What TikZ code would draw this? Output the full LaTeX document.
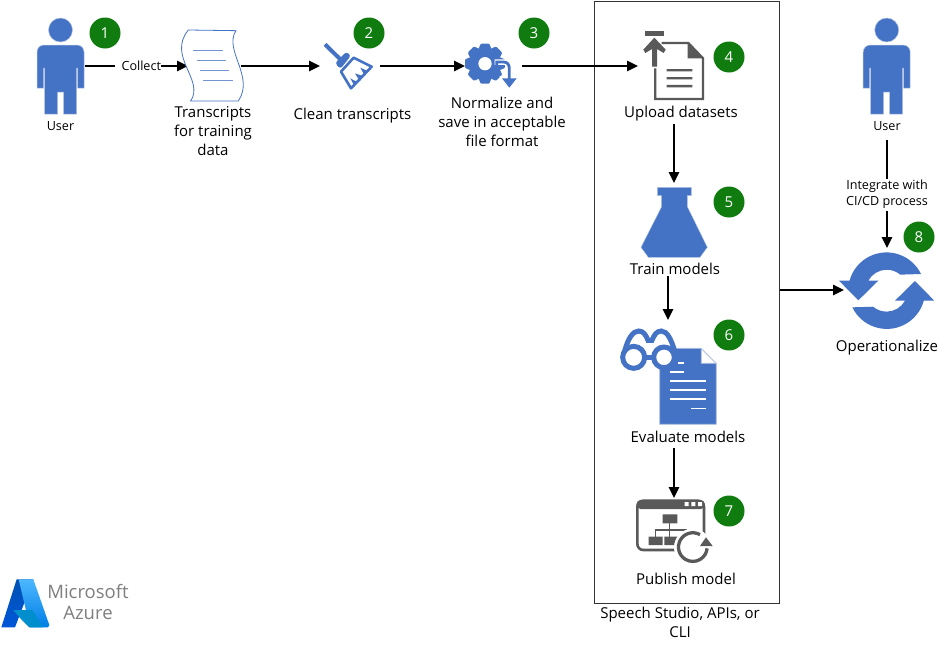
\documentclass[tikz,border=0pt]{standalone}
\usepackage{fontspec}
\setmainfont{Open Sans}
\usetikzlibrary{arrows.meta}
\definecolor{iconblue}{HTML}{4472C4}
\definecolor{iconedge}{HTML}{B4C3E2}
\definecolor{icongrey}{HTML}{595959}
\definecolor{badgegreen}{HTML}{107C10}
\definecolor{logogrey}{HTML}{7F7F7F}
\tikzset{
  zoomed/.style 2 args={shift={(#1,#2)},x=.3333pt,y=-.3333pt},
  hub/.style={inner sep=0pt,outer sep=0pt,minimum width=#1},
  conn/.style={draw=black,line width=1.6pt,-{Triangle[length=11pt,width=10.5pt]}},
  lbl/.style={inner sep=0pt,outer sep=0pt,align=center,font=\fontsize{15}{19}\selectfont,text=black},
  small/.style={inner sep=0pt,outer sep=0pt,align=center,font=\fontsize{12.6}{16}\selectfont,text=black},
  badge/.style={circle,fill=badgegreen,minimum size=31pt,inner sep=0pt,text=white,font=\fontsize{15}{15}\selectfont},
  person/.pic={
    \fill[iconblue,draw=iconedge,line width=.5pt] (0,-36) circle (12);
    \fill[iconblue,draw=iconedge,line width=.5pt]
      (-23.5,22) -- (-23.5,-14) arc[start angle=180,end angle=270,radius=7] -- (16.5,-21)
      arc[start angle=270,end angle=360,radius=7] -- (23.5,22) -- (17,22) -- (17,2) -- (16,2)
      -- (16,48) -- (3,48) -- (3,26) -- (-3,26) -- (-3,48) -- (-16,48) -- (-16,2) -- (-17,2) -- (-17,22) -- cycle;
  }
}
\begin{document}
\begin{tikzpicture}[x=1pt,y=-1pt]
\useasboundingbox (0,0) rectangle (947,649);
\fill[white] (0,0) rectangle (947,649);

% Group box
\node[draw=black!80,line width=1pt,minimum width=185pt,minimum height=602pt,inner sep=0pt] (speechBox) at (686.5,302) {};

% Hubs for connectors (icon extents)
\node[hub=48pt,minimum height=96pt] (userA) at (61,66) {};
\node[hub=53pt,minimum height=72pt] (docA) at (214.5,66) {};
\node[hub=60pt,minimum height=60pt] (broom) at (350,66) {};
\node[hub=57pt,minimum height=60pt] (gear) at (493.5,66) {};
\node[hub=66pt,minimum height=80pt] (upload) at (671,66) {};
\node[hub=66pt,minimum height=74pt] (flask) at (674,220) {};
\node[hub=96pt,minimum height=104pt] (evaluate) at (668,372) {};
\node[hub=76pt,minimum height=64pt] (publish) at (674,530) {};
\node[hub=86pt,minimum height=84pt] (sync) at (887,290) {};

% Labels
\node[small,minimum height=14pt] (userAlbl) at (60.5,126.5) {User};
\node[lbl] (docLbl) at (213,131) {Transcripts\\for training\\data};
\node[lbl] (broomLbl) at (352.5,116) {Clean transcripts};
\node[lbl] (gearLbl) at (502,122) {Normalize and\\save in acceptable\\file format};
\node[lbl,minimum height=21pt] (uploadLbl) at (681,113.5) {Upload datasets};
\node[lbl,minimum height=14pt] (trainLbl) at (675,269) {Train models};
\node[lbl,minimum height=22pt] (evalLbl) at (688,437) {Evaluate models};
\node[lbl] (publishLbl) at (686,578.5) {Publish model};
\node[lbl] (speechLbl) at (680,622) {Speech Studio, APIs, or\\CLI};
\node[lbl] (syncLbl) at (887,348) {Operationalize};
\node[small,minimum height=26pt] (userBlbl) at (887,126.5) {User};

% Connectors
\draw[conn] (userA.east) -- (docA.west);
\draw[conn] (docA.east) -- (broom.west);
\draw[conn] (broom.east) -- (gear.west);
\draw[conn] (gear.east) -- (upload.west);
\draw[conn] (flask.north |- uploadLbl.south) -- (flask.north);
\draw[conn] (evaluate.north |- trainLbl.south) -- (evaluate.north);
\draw[conn] (publish.north |- evalLbl.south) -- (publish.north);
\draw[conn] (speechBox.east |- sync.west) -- (sync.west);
\draw[conn] (userBlbl.south) -- (sync.north);
\node[small,fill=white,anchor=east] (collectLbl) at (161,65.5) {\hspace*{7pt}Collect};
\node[small,fill=white,minimum height=32pt] (cicdLbl) at (887,194.5) {Integrate with\\CI/CD process};

% User icons
\pic at (60.5,66) {person};
\pic at (886.7,66) {person};

% Scroll
\begin{scope}[zoomed={0}{0}]
  \filldraw[fill=white,draw=iconblue,line width=.8pt]
    (565,90) -- (708,92) .. controls (670,150) and (765,230) .. (715,303) -- (572,303)
    .. controls (615,240) and (500,170) .. (565,90) -- cycle;
  \draw[iconblue!75,line width=1pt] (580,152) -- (670,152) (590,183) -- (677,183) (600,212) -- (686,212) (610,243) -- (700,243);
\end{scope}

% Broom
\begin{scope}[zoomed={315}{35}]
  \draw[iconblue,line width=4pt] (30,28) -- (75,72);
  \fill[iconblue,rounded corners=3pt] (60,84) -- (94,50) -- (108,62) -- (76,102) -- cycle;
  \draw[iconblue,line width=2.6pt,line join=round,fill=white] (78,110) -- (116,68) -- (170,95) -- (108,160) -- cycle;
  \fill[iconblue] (136,98) -- (158,108) -- (148,120) -- cycle (120,115) -- (146,124) -- (134,138) -- cycle (106,130) -- (128,142) -- (118,152) -- cycle;
\end{scope}

% Gear
\begin{scope}[zoomed={460}{38}]
  \fill[iconblue] (75,77) circle (47);
  \foreach \a in {0,45,...,315}
    \fill[iconblue,rotate around={\a:(75,77)},rounded corners=1pt] (55,35) -- (62,17) -- (88,17) -- (95,35) -- cycle;
  \fill[white] (75,77) circle (20);
  \draw[white,line width=5.5pt] (104,72) -- (130,72) .. controls (143,72) and (148,80) .. (148,92) -- (148,125);
  \fill[white] (118,114) -- (178,114) -- (148,155) -- cycle;
  \draw[iconblue,line width=2.8pt] (110,86) -- (110,72) -- (130,72) .. controls (143,72) and (148,80) .. (148,92) -- (148,125);
  \fill[iconblue] (126,121) -- (170,121) -- (148,149) -- cycle;
\end{scope}

% Upload
\begin{scope}[zoomed={635}{25}]
  \fill[icongrey] (30,19) rectangle (88,33);
  \draw[icongrey,line width=2.3pt] (80,54) -- (160,54) -- (204,100) -- (204,222) -- (61,222) -- (61,130);
  \fill[icongrey] (158,52) -- (207,100) -- (158,100) -- cycle;
  \fill[icongrey] (51,125) -- (51,72) -- (31,84) -- (25,74) -- (58,38) -- (92,74) -- (86,84) -- (66,72) -- (66,125) -- cycle;
  \fill[icongrey] (95,132) rectangle (172,139) (95,156) rectangle (172,163) (95,180) rectangle (172,187);
\end{scope}

% Flask
\begin{scope}[zoomed={590}{0}]
  \fill[iconblue,draw=iconedge,line width=.4pt] (202,562) -- (304,562) -- (304,587) -- (292,587) -- (292,620) -- (352,742)
    -- (330,772) -- (175,772) -- (153,742) -- (214,622) -- (214,587) -- (202,587) -- cycle;
\end{scope}

% Evaluate: document and glasses
\begin{scope}[zoomed={618}{325}]
  \fill[iconblue,draw=iconedge,line width=.7pt] (125,70) -- (250,70) -- (295,115) -- (295,298) -- (125,298) -- cycle;
  \filldraw[fill=white,draw=iconedge,line width=.7pt] (250,71) -- (250,115) -- (294,115) -- cycle;
  \draw[white,line width=1.6pt] (180,114) -- (198,114) (155,141) -- (198,141) (155,168) -- (263,168)
     (155,195) -- (263,195) (155,222) -- (263,222) (219,250) -- (263,250);
  \draw[iconblue,line width=5pt,line cap=round,fill=white] (47,97) circle (33) (138,97) circle (31);
  \draw[iconblue,line width=5pt] (80,97) -- (107,97);
  \draw[iconblue,line width=5pt,line cap=round]
    (20,78) .. controls (30,40) and (45,18) .. (62,18) .. controls (76,18) and (84,30) .. (90,46) -- (102,46)
    .. controls (108,30) and (116,18) .. (130,18) .. controls (148,18) and (160,45) .. (170,78);
\end{scope}

% Publish
\begin{scope}[zoomed={632}{495}]
  \draw[icongrey,line width=2.6pt,rounded corners=6pt] (16,17) rectangle (216,165);
  \fill[icongrey,rounded corners=4pt] (14,15) rectangle (218,42);
  \fill[white] (158,21) rectangle (170,33) (178,21) rectangle (190,33) (198,21) rectangle (210,33);
  \fill[icongrey] (92,58) rectangle (136,85) (50,125) rectangle (92,150) (97,125) rectangle (140,150);
  \draw[icongrey,line width=1.2pt] (113,85) -- (113,125) (70,125) -- (70,105) -- (165,105);
  \fill[white] (182,157) circle (56);
  \draw[icongrey,line width=3.3pt] (204,119) arc[start angle=-60,end angle=-355,radius=43];
  \fill[icongrey] (204,153) -- (242,153) -- (222,127) -- cycle;
\end{scope}

% Sync
\begin{scope}[zoomed={835}{248}]
  \fill[iconblue] (258,78) arc[start angle=-25.9,end angle=-164.7,radius=115] -- (12,98) -- (70,157) -- (130,98) -- (100,98)
     arc[start angle=-151.4,end angle=-50,radius=63] -- cycle;
  \fill[iconblue] (52,178) arc[start angle=154.1,end angle=15.3,radius=115] -- (298,158) -- (240,99) -- (180,158) -- (210,158)
     arc[start angle=28.6,end angle=130,radius=63] -- cycle;
\end{scope}

% Logo
\begin{scope}[zoomed={0}{570}]
  \shade[top color=blue!55!cyan!70!black,bottom color=blue!60!cyan!85!black] (50,28) -- (100,28) -- (45,172) -- (4,172) -- cycle;
  \shade[top color=cyan!60!blue!70,bottom color=blue!45!cyan!90!black] (56,28) -- (100,28) -- (148,165) -- (144,172) -- (90,172) -- cycle;
  \fill[blue!30!cyan!80!black] (40,120) -- (97,120) -- (128,172) -- (88,172) -- (62,146) -- cycle;
\end{scope}
\node[inner sep=0pt,text=logogrey,font=\fontsize{18.5}{22}\selectfont,align=center] (logoA) at (88,591) {Microsoft};
\node[inner sep=0pt,text=logogrey,font=\fontsize{18.5}{22}\selectfont,align=center] (logoB) at (88,613) {Azure};

% Badges
\node[badge] (b1) at (105,33) {1};
\node[badge] (b2) at (369,33) {2};
\node[badge] (b3) at (534,33) {3};
\node[badge] (b4) at (729,57) {4};
\node[badge] (b5) at (729,202) {5};
\node[badge] (b6) at (729,335) {6};
\node[badge] (b7) at (729,511) {7};
\node[badge] (b8) at (919,237) {8};
\end{tikzpicture}
\end{document}
